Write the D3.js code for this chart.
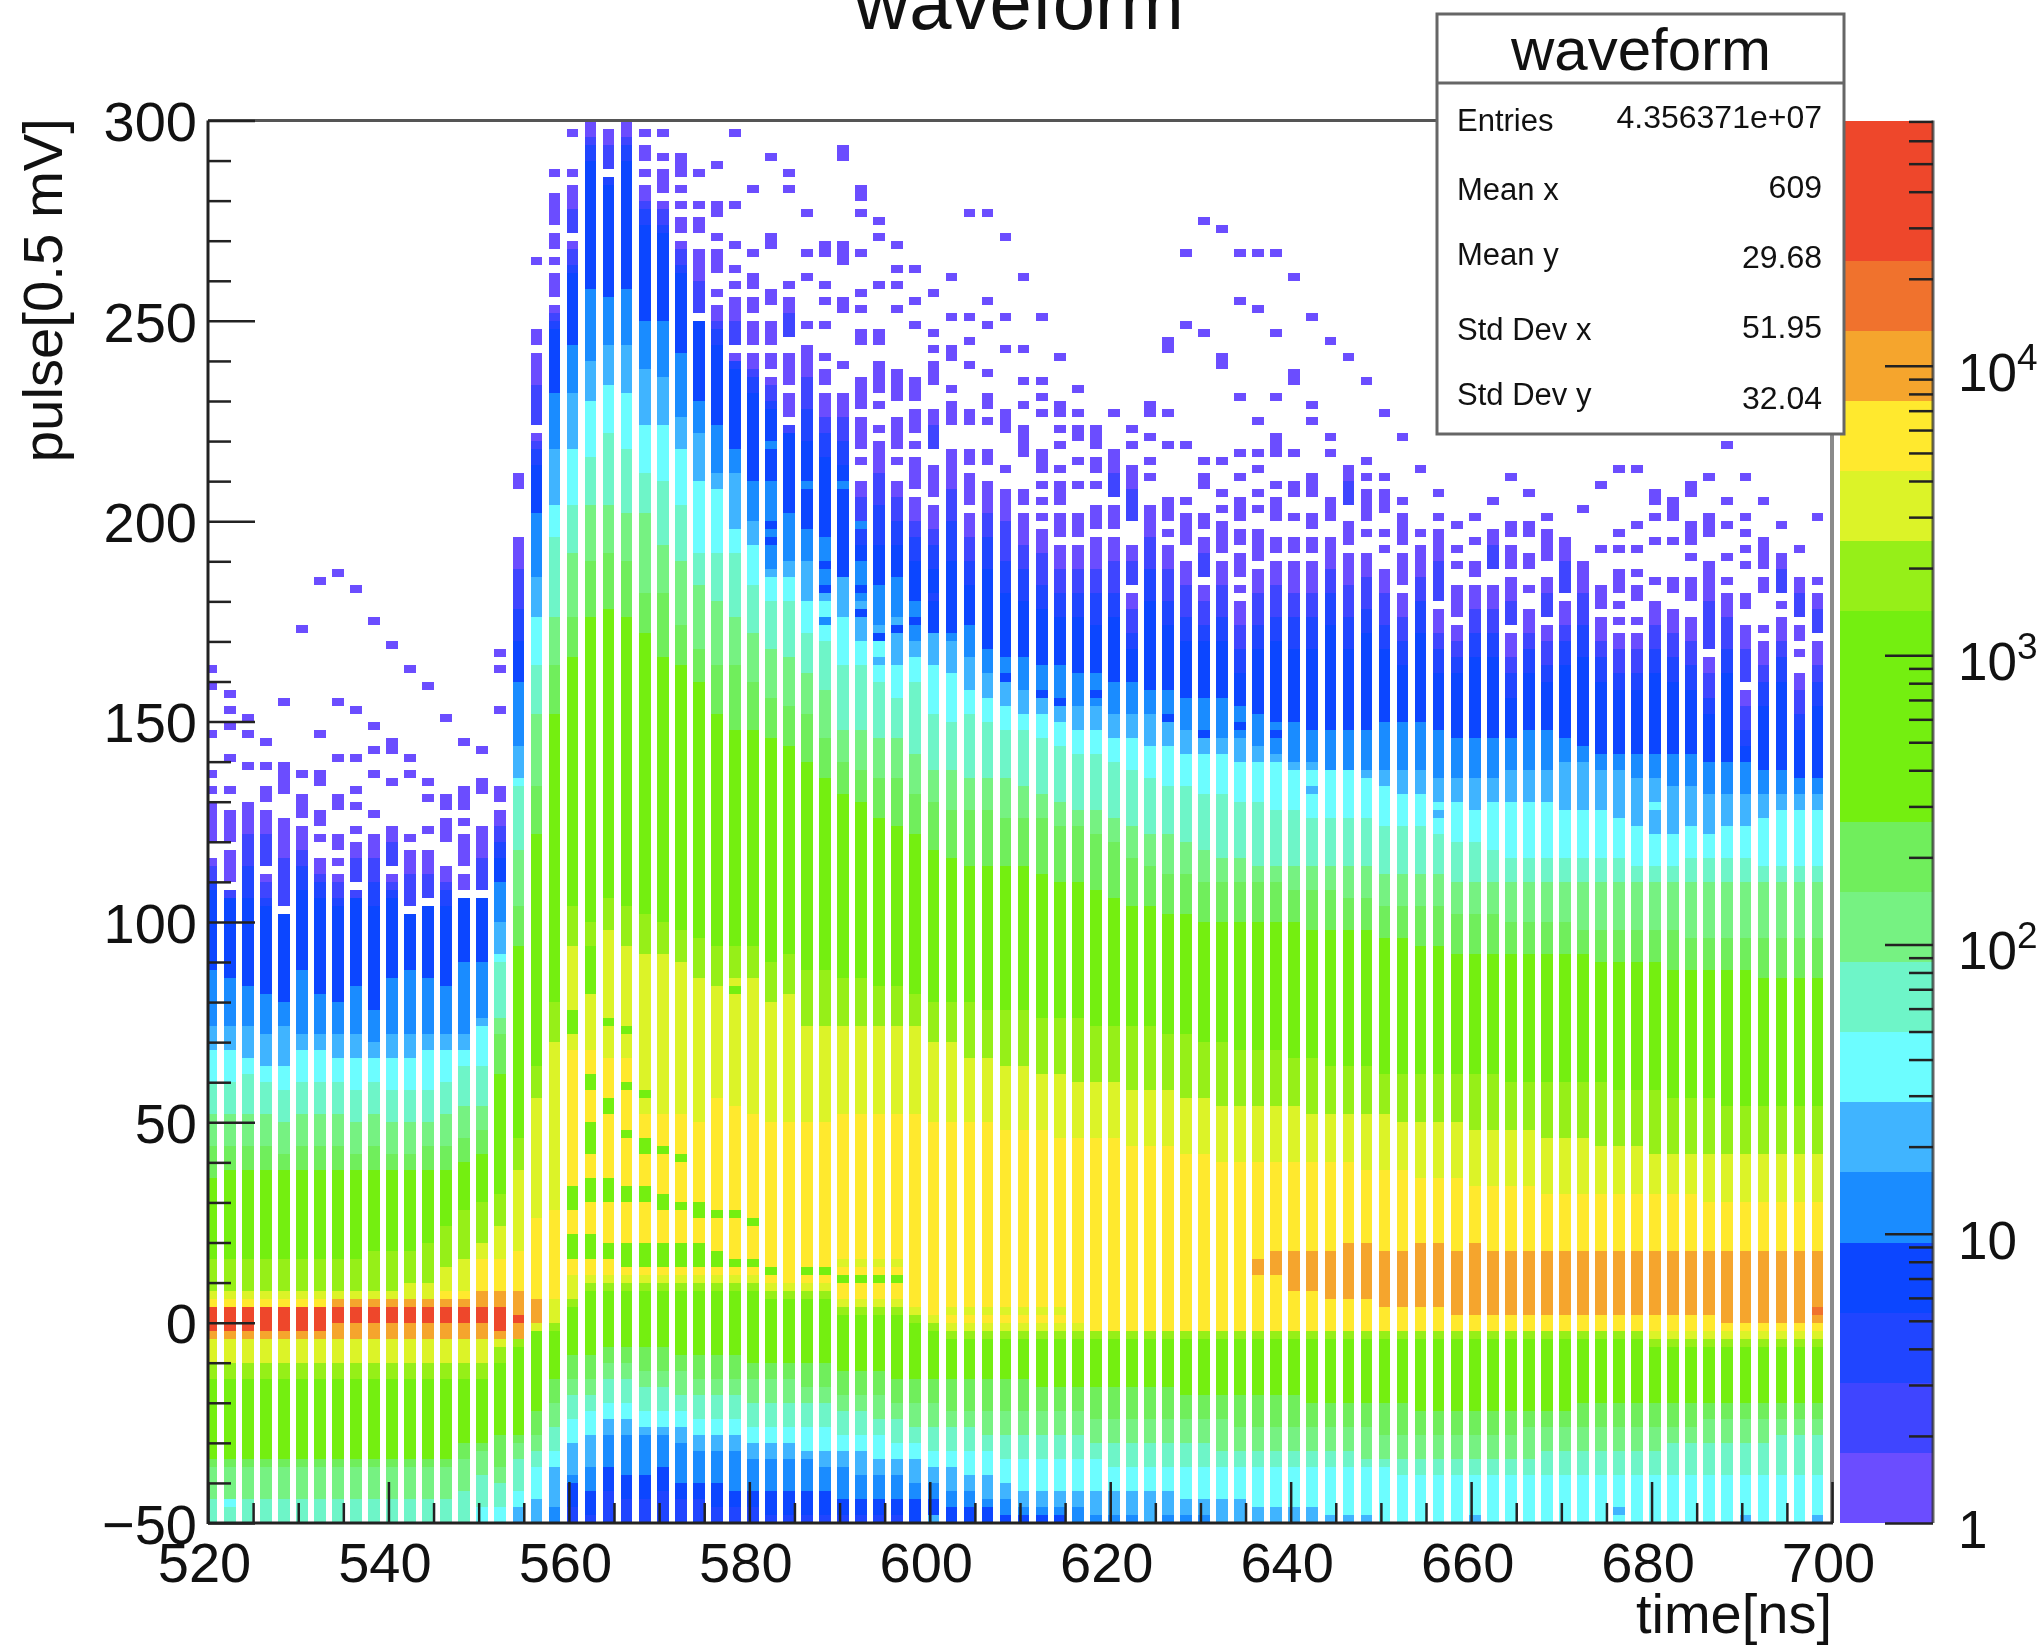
<!DOCTYPE html>
<html><head><meta charset="utf-8">
<script src="https://d3js.org/d3.v7.min.js"></script>
<style>
html,body{margin:0;padding:0;background:#fff;overflow:hidden}
svg{display:block;filter:blur(0.7px)}
text{font-family:"Liberation Sans",Arial,sans-serif;fill:#111}
</style></head><body><div id="chart"></div>
<script>
// ---------- data (one value per time bin, pulse units) ----------
const xTickLabels=[520,540,560,580,600,620,640,660,680,700];
const yTickLabels=[-50,0,50,100,150,200,250,300];
const colorDecades=[1,10,100,1000,10000];
const statNames=["Entries","Mean x","Mean y","Std Dev x","Std Dev y"];
const statValues=["4.356371e+07","609","29.68","51.95","32.04"];
const levelColors=["#6b4dff","#3f45ff","#2045ff","#0c46ff","#1a8cff","#40b4ff","#6cfdff","#6ef5c8","#76f282","#70ee5c","#74ef10","#74ef10","#74ef10","#96ef18","#dcf328","#ffe92e","#f5a52d","#f0722d","#ee472b","#ee472b"];

const solidTop=[116,108,130,112,102,124,116,112,108,122,
112,102,104,114,106,106,128,197,222,254,
270,300,286,300,284,280,270,250,254,242,
242,236,224,244,232,232,211,220,211,206,
204,218,202,210,208,202,198,194,194,196,
196,182,204,194,190,184,190,180,188,190,
190,190,196,192,192,188,182,194,178,174,
184,184,172,178,174,180,190,176,172,172,
180,178,176,166,182,158,170,176,162,170];
const top3=[108,106,106,104,102,108,106,104,106,104,
106,104,104,104,106,106,116,170,215,248,
262,290,285,290,275,272,262,250,245,238,
232,228,222,220,216,215,195,195,195,190,
188,190,185,188,182,180,178,176,176,174,
176,168,180,174,170,170,170,162,168,170,
168,168,174,168,172,168,164,172,162,162,
166,166,156,162,160,164,166,160,158,158,
162,160,158,152,162,144,154,160,148,154];
const top4=[88,87,85,83,80,88,82,81,84,79,
87,88,86,85,90,90,110,160,203,232,
245,258,257,258,251,251,242,231,224,218,
210,211,203,199,195,186,190,183,184,180,
173,175,175,168,167,167,164,164,163,163,
161,160,159,158,157,156,156,154,152,151,
150,149,148,148,149,150,150,150,148,147,
146,146,147,148,148,146,145,143,143,143,
143,143,142,141,141,140,139,138,136,136];
const top5=[74,74,75,72,75,73,72,73,73,70,
72,72,72,73,73,76,100,145,187,218,
232,241,245,244,239,237,227,222,212,212,
200,191,191,190,185,186,181,175,177,170,
172,171,166,163,161,158,157,156,155,154,
153,153,152,150,149,148,147,146,144,142,
141,140,139,139,139,139,139,138,137,136,
136,137,138,139,139,140,140,139,138,137,
136,135,134,133,132,132,133,133,133,133];
const top6=[69,69,67,64,64,68,68,67,66,66,
67,66,68,68,68,75,93,137,177,205,
219,231,234,232,225,225,218,210,208,199,
194,187,186,181,180,176,170,170,165,166,
164,162,158,157,155,153,152,150,149,149,
147,146,145,144,143,143,142,141,140,140,
139,139,138,138,136,134,132,132,131,131,
130,131,130,130,130,129,128,128,126,124,
123,123,124,123,124,124,127,128,129,129];
const top7=[61,61,62,61,59,61,60,61,59,60,
59,59,59,61,64,64,90,134,165,196,
205,217,222,218,213,210,205,193,193,192,
185,181,180,173,170,164,164,161,157,160,
153,151,152,150,149,148,147,145,143,142,
140,138,136,135,134,133,133,131,130,129,
128,127,127,126,126,125,125,125,122,121,
120,118,117,116,116,117,117,116,116,115,
115,115,116,116,116,116,115,115,115,115];
const top8=[52,52,52,52,50,52,52,52,50,52,
50,50,50,52,54,55,77,118,153,177,
192,205,205,203,202,195,190,185,180,176,
172,169,167,162,158,149,148,147,146,142,
139,138,137,136,136,135,133,131,129,128,
126,125,123,122,120,118,117,116,115,115,
115,115,114,114,114,113,113,113,112,111,
110,110,110,110,110,110,110,110,111,111,
111,111,111,111,111,111,111,111,111,111];
const top9=[44,44,44,44,43,44,44,44,43,44,
43,43,44,44,46,48,72,105,135,164,
177,190,193,190,182,182,174,169,164,164,
160,157,155,152,146,140,139,137,136,133,
131,129,129,128,127,127,126,125,124,123,
120,117,114,113,112,111,111,110,110,110,
109,109,108,107,106,105,105,105,104,103,
103,102,101,101,100,100,99,99,98,98,
98,98,97,97,97,97,97,97,97,97];
const top10=[37,38,38,38,38,38,38,38,38,38,
38,38,38,38,41,42,62,95,123,152,
166,177,178,177,172,166,164,160,153,149,
148,146,144,141,137,133,130,127,124,122,
119,117,115,115,114,114,113,111,110,109,
107,105,104,103,102,101,101,100,100,100,
100,99,99,99,98,97,96,95,94,93,
92,92,92,92,92,92,92,91,91,90,
90,89,89,88,88,88,87,87,87,86];
const top13=[16,16,16,16,16,16,16,16,16,18,
18,18,20,24,28,30,32,46,64,80,
104,100,106,104,102,100,99,96,94,95,
94,91,92,88,88,87,86,85,84,82,
81,80,80,79,78,78,77,77,76,75,
75,74,74,73,72,71,70,69,68,68,
67,66,65,65,64,63,63,62,62,62,
62,62,61,61,60,60,60,60,59,58,
58,57,56,56,55,55,55,55,55,55];
const top14=[8,8,8,8,8,8,8,8,8,8,
9,10,11,14,17,20,25,38,56,70,
95,94,98,95,93,92,90,86,84,86,
86,80,83,75,75,74,74,74,74,74,
70,70,67,67,65,64,63,62,61,61,
60,59,58,58,57,56,55,55,54,54,
54,53,53,52,52,52,51,51,50,50,
49,49,48,48,47,47,46,45,45,44,
43,43,43,43,43,43,43,43,43,43];
const top15=[6,6,6,6,6,6,6,6,6,6,
6,6,7,8,9,16,16,19,27,28,
68,68,67,66,52,52,52,50,57,55,
53,50,51,51,51,53,53,53,53,52,
51,51,50,50,49,48,48,47,47,47,
46,45,45,44,43,42,41,41,41,40,
40,40,40,40,39,38,38,37,36,36,
35,35,34,34,33,33,33,33,33,32,
32,32,32,31,31,31,31,31,31,31];

const amberTop=[4,4,4,4,4,4,4,6,6,6,
6,6,6,6,6,8,8,8,6,0,
0,0,0,0,0,0,0,0,0,0,
0,0,0,0,0,0,0,0,0,0,
0,0,0,0,0,0,0,0,0,0,
0,0,0,0,0,0,0,0,16,18,
18,18,18,20,20,18,18,20,20,18,
20,18,18,18,18,18,18,18,18,18,
18,18,18,18,18,18,18,18,18,18];
const amberBottom=[-3,-3,-3,-3,-3,-3,-3,-3,-3,-3,
-3,-3,-3,-3,-3,-3,-3,-3,0,0,
0,0,0,0,0,0,0,0,0,0,
0,0,0,0,0,0,0,0,0,0,
0,0,0,0,0,0,0,0,0,0,
0,0,0,0,0,0,0,0,12,12,
8,8,6,6,6,4,4,4,4,2,
2,2,2,2,2,2,2,2,2,2,
2,2,2,2,0,0,0,0,0,0];
const redTop=[4,4,4,4,4,4,4,4,4,4,
4,4,4,4,4,4,4,2];
const redBottom=[-2,-2,-2,-2,-2,-2,-2,0,0,0,
0,0,0,0,0,0,-2,0];

const low15=[-3,-3,-3,-3,-3,-3,-3,-3,-3,-3,
-3,-3,-3,-3,-3,-3,-3,-1,0,7,
13,13,13,13,13,13,13,13,13,13,
12,11,11,11,11,6,6,6,6,4,
2,0,0,0,0,0,0,0,0,-1,
-1,-1,-1,-1,-1,-1,-1,-1,-1,-1,
-1,-1,-1,-1,-1,-1,-1,-1,-1,-1,
-1,-1,-1,-1,-1,-1,-1,-1,-1,-1,
-1,-1,-1,-1,-1,-1,-1,-1,-1,-1];
const low14=[-10,-10,-10,-10,-10,-10,-10,-10,-10,-10,
-10,-10,-10,-10,-10,-10,-6,-3,-1,0,
6,10,10,10,10,10,10,10,10,10,
10,9,9,9,9,4,4,4,4,2,
0,-1,-1,-1,-1,-1,-1,-1,-1,-1,
-1,-1,-1,-1,-1,-1,-1,-1,-1,-1,
-1,-1,-1,-1,-1,-1,-1,-1,-1,-1,
-1,-1,-1,-1,-1,-1,-1,-1,-1,-1,
-3,-3,-3,-3,-3,-3,-3,-3,-3,-3];
const low13=[-14,-14,-14,-14,-14,-14,-14,-14,-14,-14,
-14,-14,-14,-14,-14,-14,-9,-5,-2,-2,
4,8,8,8,8,8,8,8,8,8,
8,7,7,7,7,2,2,2,2,0,
-2,-3,-3,-3,-3,-3,-3,-3,-3,-3,
-3,-3,-3,-3,-3,-3,-3,-3,-3,-3,
-3,-3,-3,-3,-3,-3,-3,-3,-3,-3,
-3,-3,-3,-3,-3,-3,-3,-3,-3,-3,
-5,-5,-5,-5,-5,-5,-5,-5,-5,-5];
const low10=[-33,-33,-33,-33,-33,-33,-33,-33,-33,-33,
-33,-33,-33,-33,-30,-29,-28,-27,-21,-14,
-7,-7,-6,-6,-6,-6,-7,-7,-8,-8,
-9,-9,-9,-10,-10,-11,-11,-12,-13,-13,
-13,-14,-14,-14,-14,-14,-15,-15,-15,-15,
-16,-16,-16,-16,-17,-17,-17,-17,-18,-18,
-18,-19,-19,-19,-20,-20,-20,-21,-21,-21,
-21,-21,-21,-21,-21,-21,-20,-20,-20,-20,
-20,-20,-20,-20,-20,-20,-20,-20,-20,-20];
const low9=[-36,-36,-36,-36,-36,-36,-36,-36,-36,-36,
-36,-36,-36,-36,-33,-32,-35,-30,-27,-20,
-14,-13,-10,-10,-11,-11,-12,-13,-13,-13,
-14,-14,-14,-15,-15,-17,-17,-18,-20,-20,
-20,-21,-21,-21,-21,-21,-22,-22,-22,-23,
-23,-23,-23,-24,-24,-24,-24,-25,-25,-25,
-25,-26,-26,-26,-26,-27,-27,-27,-27,-27,
-27,-27,-27,-26,-26,-26,-26,-25,-25,-25,
-25,-25,-25,-24,-24,-24,-24,-24,-24,-24];
const low8=[-44,-44,-44,-44,-44,-44,-44,-44,-44,-44,
-44,-44,-44,-44,-41,-38,-40,-34,-32,-26,
-18,-17,-14,-14,-15,-16,-17,-18,-18,-18,
-19,-19,-19,-20,-20,-22,-22,-23,-24,-25,
-26,-26,-26,-27,-27,-27,-27,-28,-28,-29,
-29,-30,-30,-30,-30,-30,-31,-31,-31,-31,
-31,-32,-32,-32,-33,-33,-33,-34,-34,-34,
-34,-33,-33,-33,-32,-32,-32,-31,-31,-31,
-31,-30,-30,-30,-29,-29,-29,-28,-28,-28];
const low7=[-52,-52,-52,-52,-52,-52,-52,-52,-52,-52,
-52,-52,-52,-52,-52,-46,-46,-41,-36,-31,
-24,-22,-20,-20,-21,-21,-22,-23,-23,-24,
-25,-25,-25,-26,-26,-27,-27,-28,-29,-30,
-31,-31,-32,-32,-33,-33,-33,-34,-34,-34,
-35,-35,-35,-35,-35,-35,-35,-35,-35,-35,
-36,-36,-36,-36,-36,-36,-37,-37,-37,-37,
-37,-37,-37,-37,-37,-37,-37,-37,-37,-37,
-37,-37,-37,-37,-37,-37,-37,-37,-37,-37];
const low6=[-52,-52,-52,-52,-52,-52,-52,-52,-52,-52,
-52,-52,-52,-52,-52,-52,-52,-46,-44,-36,
-30,-28,-24,-24,-25,-25,-26,-27,-27,-28,
-29,-30,-30,-31,-31,-32,-32,-33,-33,-34,
-35,-36,-37,-38,-39,-41,-41,-41,-41,-41,
-41,-41,-41,-42,-43,-43,-44,-44,-45,-45,
-46,-46,-47,-47,-48,-49,-50,-52,-52,-52,
-52,-52,-52,-52,-52,-52,-52,-52,-52,-52,
-50,-52,-52,-52,-52,-48,-52,-52,-52,-48];
const low5=[-52,-52,-52,-52,-52,-52,-52,-52,-52,-52,
-52,-52,-52,-52,-52,-52,-52,-52,-52,-45,
-37,-35,-27,-28,-28,-28,-30,-31,-31,-32,
-33,-34,-34,-34,-35,-36,-37,-37,-38,-39,
-40,-41,-42,-43,-44,-46,-46,-46,-46,-47,
-47,-47,-47,-48,-48,-48,-49,-49,-50,-50,
-50,-52,-52,-52,-52,-52,-52,-52,-52,-52,
-52,-52,-52,-52,-52,-52,-52,-52,-52,-52,
-52,-52,-52,-52,-52,-52,-52,-52,-52,-52];
const low4=[-52,-52,-52,-52,-52,-52,-52,-52,-52,-52,
-52,-52,-52,-52,-52,-52,-52,-52,-52,-52,
-40,-42,-36,-37,-38,-35,-39,-40,-40,-41,
-41,-42,-42,-42,-42,-43,-43,-43,-43,-44,
-44,-45,-45,-46,-47,-48,-48,-48,-49,-49,
-49,-52,-52,-52,-52,-52,-52,-52,-52,-52,
-52,-52,-52,-52,-52,-52,-52,-52,-52,-52,
-52,-52,-52,-52,-52,-52,-52,-52,-52,-52,
-52,-52,-52,-52,-52,-52,-52,-52,-52,-52];
const low3=[-52,-52,-52,-52,-52,-52,-52,-52,-52,-52,
-52,-52,-52,-52,-52,-52,-52,-52,-52,-52,
-45,-47,-41,-43,-44,-42,-44,-44,-45,-46,
-46,-47,-47,-47,-47,-48,-48,-48,-48,-52,
-52,-52,-52,-52,-52,-52,-52,-52,-52,-52,
-52,-52,-52,-52,-52,-52,-52,-52,-52,-52,
-52,-52,-52,-52,-52,-52,-52,-52,-52,-52,
-52,-52,-52,-52,-52,-52,-52,-52,-52,-52,
-52,-52,-52,-52,-52,-52,-52,-52,-52,-52];

// isolated low-count bins above each column's solid part: centre, or [low, high]
const isolated=[
[163,159,147,137,133,129,[120,128]],
[157,153,149,141,133,[120,128],[110,118]],
[151,147,139],
[145,139,[130,134],[114,128]],
[155,[132,140],[104,126]],
[173,137,[126,132]],
[185,147,[134,138],[124,128],121],
[187,155,141,[128,132],[118,122],115],
[183,153,141,133,129,123,[110,120]],
[175,149,143,137,127],
[169,[142,146],135,[114,124]],
[163,141,137,121,[104,118]],
[159,135,131,123,[106,118]],
[151,[128,132],[120,126]],
[145,[128,134],125,[114,122],[108,112]],
[143,[132,136],[108,124]],
[167,163,153,[130,134]],
[[208,212]],
[265,[244,248],[224,242]],
[287,[274,282],[268,272],[264,266],[256,262]],
[297,287,[272,284]],
[],
[[288,298]],
[],
[297,[290,294],287],
[297,291,[282,288]],
[[286,292],283,279,[272,276]],
[287,279,[272,276],[252,268]],
[289,[276,280],271,[262,268],257],
[297,279,269,263,259,[243,256]],
[283,267,[258,262],[252,256],[244,250]],
[291,[268,272],[254,258],[244,250],[238,242]],
[287,283,259,[246,256],[234,242],[226,232]],
[277,267,261,249],
[[266,270],259,255,249,241,[234,238]],
[[290,294],[264,270],[252,256],239],
[[280,284],277,267,257,253,[244,248],[228,236],[218,226],215],
[275,271,259,[244,248],[232,240],229,223],
[269,263,259,253,[230,238],[218,226],215],
[263,255,249,[230,236],[222,228],219,[208,216]],
[257,246,243,[234,240],[218,228],[206,214]],
[261,251,[240,244],233,[224,230]],
[277,251,245,239,[224,228],[214,218],[204,212]],
[277,255,249,237,[228,232],225,[214,218]],
[271,251,243,[222,228],213],
[261,243,235,229,[216,224],[204,208]],
[251,235,231,227,[212,218],209,205,201],
[241,[226,230],223,219,213,[204,210],[196,202]],
[233,227,[220,224],215,209,[196,202]],
[[218,224],[212,216],209,[198,204]],
[227,[206,218],[198,204]],
[223,219,[200,214],[184,194]],
[[226,230],221,215,211],
[[242,246],227,219,[200,206],197],
[267,249,219,205,[194,202]],
[275,247,215,[208,212],[198,202],[186,196]],
[273,[238,242],215,207,203,[192,200]],
[267,255,231,217,211,[200,206],[194,198],[186,192],183],
[267,253,225,217,213,207,203,[190,198]],
[267,247,231,[216,222],209,[200,206],[192,196]],
[261,[234,238],217,[206,210],201,[192,196]],
[251,229,225,[206,212],[198,202],[192,196]],
[245,221,217,[200,206]],
[241,[204,214],[194,200]],
[235,215,211,[200,208],197],
[227,211,[202,208],197,192],
[221,205,[194,202],[184,192]],
[213,197],
[207,201,[180,198]],
[199,193,189,[176,184]],
[201,194,[186,190]],
[205,[188,198]],
[211,[196,200],[188,194],[174,186]],
[207,[196,200],[188,192],182],
[201,[190,198],[176,186]],
[[182,196]],
[203],
[209,193,[178,184]],
[213,197,193,[184,188],182,178,175],
[213,199,193,187,[180,184],175],
[[204,208],201,195,185],
[[200,206],195,[182,186]],
[[206,210],[194,200],191,[180,186]],
[211,[196,202],[168,190]],
[219,205,199,191,185],
[211,201,197,193,189,[178,182],[160,174]],
[205,[188,196],[182,186],173],
[199,[182,192],179],
[193,[176,186],[170,173],167],
[201,185,[172,182]]
];

// single bins that stand out from their neighbours: [column, bin, level]
const specks=[[31,218,4],[31,198,3],[31,194,3],[31,188,4],[33,208,4],[34,194,4],[34,188,3],[34,182,3],[34,174,4],
[35,208,4],[35,194,3],[35,188,3],[36,198,4],[36,182,3],[36,176,3],[37,182,4],[37,170,3],[37,164,5],[38,184,4],[38,172,3],
[39,182,3],[39,174,3],[40,174,3],[40,180,2],[41,172,3],[41,166,5],[42,166,4],[44,160,3],[46,156,3],[47,154,3],[49,156,3],
[51,152,4],[53,150,3],[55,146,3],[57,148,3],[59,146,3],[60,142,4],[62,156,3],[64,154,3],[66,150,3],[69,150,3],[71,148,3],
[74,148,3],[75,136,5],[78,144,3],[79,140,4],[80,128,6],[81,130,5],[83,140,3],[85,142,3],[86,126,5],[88,144,3],[86,136,4],
[72,132,5],[76,130,5],[70,128,5],[68,126,5],[61,132,5],[63,134,6],
[20,76,10],[24,68,14],[29,60,14],
[41,2,14],[42,2,14],[43,2,14],[44,2,14],[45,2,14],[46,2,14],[47,2,14],
[35,10,10],[36,10,10],[37,10,10],[38,10,10],[35,14,14],[36,14,14],[37,14,14],[38,14,14],
[89,2,17],[1,-46,6],[40,-50,5],[52,-50,5],[70,-50,5],[78,-48,5]];

// darker green / yellow-green stripes inside the yellow region: [column, low, high]
const greenStripes=[[20,72,78],[20,28,34],[20,16,22],[21,82,94],[21,58,62],[21,42,50],[21,30,36],[21,16,22],
[22,74,76],[22,52,56],[22,30,36],[22,16,20],[23,72,74],[23,58,60],[23,46,48],[23,30,34],[23,14,20],
[24,56,58],[24,42,46],[24,30,34],[24,14,20],[25,42,44],[25,28,32],[25,14,20],[26,40,42],[26,28,30],[26,14,20],
[27,26,30],[27,14,20],[28,26,28],[28,14,18],[29,82,84],[29,26,28],[29,14,16],[30,24,26],[30,14,16],[31,12,14],[33,12,14],[34,12,14]];

// ---------- geometry ----------
const W=2039,H=1649;
const plot={l:208,r:1832,t:120.5,b:1523};
const bar={l:1840,r:1933};
const x=d3.scaleLinear().domain([520,700]).range([plot.l,plot.r]);
const y=d3.scaleLinear().domain([-50,300]).range([plot.b,plot.t]);
const colz=d3.scaleLog().domain([1,70500]).range([plot.b,plot.t]);
const color=d3.scaleOrdinal().domain(d3.range(20)).range(levelColors);
const firstBinCentre=520.4,binStep=2,fillWidth=1.3,binHeight=2;

function levelAt(k,c){
  if(redTop[k]!==undefined&&c<redTop[k]&&c>=redBottom[k])return 18;
  if(c<amberTop[k]&&c>=amberBottom[k])return 16;
  if(c>=low15[k]){
    if(c>=top3[k]){const t=(c-top3[k])/Math.max(1,solidTop[k]-top3[k]);return t>.66?0:t>.33?1:2;}
    if(c>=top4[k])return 3;
    if(c>=top5[k])return 4;
    if(c>=top6[k])return 5;
    if(c>=top7[k])return 6;
    if(c>=top8[k])return 7;
    if(c>=top9[k])return 8;
    if(c>=top10[k])return 9;
    if(c>=top13[k])return 10;
    if(c>=top14[k])return 13;
    if(c>=top15[k])return 14;
    return 15;
  }
  if(c>=low14[k])return 14;
  if(c>=low13[k])return 13;
  if(c>=low10[k])return 10;
  if(c>=low9[k])return 9;
  if(c>=low8[k])return 8;
  if(c>=low7[k])return 7;
  if(c>=low6[k])return 6;
  if(c>=low5[k])return 5;
  if(c>=low4[k])return 4;
  if(c>=low3[k])return 3;
  return 2;
}
const speckMap=new Map(specks.map(s=>[s[0]+"|"+s[1],s[2]]));
const stripeAt=(k,c)=>greenStripes.some(s=>s[0]===k&&c>=s[1]&&c<s[2]);

const cells=[];
solidTop.forEach((st,k)=>{
  for(let p=-50;p<300;p+=binHeight){
    const c=p+1;
    if(c>=st)continue;
    let lv=levelAt(k,c);
    if(stripeAt(k,c))lv=10;
    const sp=speckMap.get(k+"|"+p);
    if(sp!==undefined)lv=sp;
    cells.push({k,p,lv});
  }
  (isolated[k]||[]).forEach(e=>{
    if(Array.isArray(e)){
      const lo=Math.round(e[0]/2)*2,hi=Math.round(e[1]/2)*2;
      for(let p=lo;p<Math.max(hi,lo+2);p+=2)
        cells.push({k,p,lv:(hi-lo>=10&&p<(lo+hi)/2)?1:0});
    }else cells.push({k,p:Math.floor(e/2)*2,lv:0});
  });
});

const svg=d3.select("#chart").append("svg").attr("width",W).attr("height",H).attr("viewBox",[0,0,W,H]);
svg.append("rect").attr("width",W).attr("height",H).attr("fill","#fff");
svg.append("clipPath").attr("id","pc").append("rect")
  .attr("x",plot.l).attr("y",plot.t).attr("width",plot.r-plot.l).attr("height",plot.b-plot.t);

svg.append("g").attr("clip-path","url(#pc)").attr("shape-rendering","crispEdges")
 .selectAll("rect").data(cells).join("rect")
  .attr("x",d=>x(firstBinCentre+binStep*d.k-fillWidth/2))
  .attr("width",d=>x(firstBinCentre+binStep*d.k+fillWidth/2)-x(firstBinCentre+binStep*d.k-fillWidth/2))
  .attr("y",d=>y(d.p+binHeight))
  .attr("height",d=>y(d.p)-y(d.p+binHeight))
  .attr("fill",d=>color(d.lv));

// colour bar
const step=Math.log10(70500)/20;
svg.append("g").attr("shape-rendering","crispEdges").selectAll("rect").data(d3.range(20)).join("rect")
  .attr("x",bar.l).attr("width",bar.r-bar.l)
  .attr("y",i=>colz(Math.pow(10,(i+1)*step)))
  .attr("height",i=>colz(Math.pow(10,i*step))-colz(Math.pow(10,(i+1)*step)))
  .attr("fill",i=>color(i));

// frame
const frame=svg.append("g").attr("fill","none");
frame.append("line").attr("x1",plot.l).attr("x2",plot.r).attr("y1",plot.t).attr("y2",plot.t).attr("stroke","#555").attr("stroke-width",3);
frame.append("line").attr("x1",plot.r).attr("x2",plot.r).attr("y1",plot.t).attr("y2",plot.b).attr("stroke","#8a8a8a").attr("stroke-width",4);
frame.append("line").attr("x1",plot.l).attr("x2",plot.r+1).attr("y1",plot.b).attr("y2",plot.b).attr("stroke","#222").attr("stroke-width",3);
frame.append("line").attr("x1",plot.l).attr("x2",plot.l).attr("y1",plot.t).attr("y2",plot.b+1).attr("stroke","#222").attr("stroke-width",3);
frame.append("line").attr("x1",bar.r).attr("x2",bar.r).attr("y1",plot.t).attr("y2",plot.b).attr("stroke","#333").attr("stroke-opacity",.75).attr("stroke-width",3);

function styleAxis(g){g.select(".domain").remove();g.selectAll("line").attr("stroke","#222").attr("stroke-width",2.5);
  g.selectAll("text").attr("font-size",56).attr("fill","#111").attr("font-family",'"Liberation Sans",Arial,sans-serif');}

const minorY=d3.range(-50,301,10).filter(v=>!yTickLabels.includes(v));
const minorX=d3.range(520,701,5).filter(v=>!xTickLabels.includes(v));
svg.append("g").attr("transform",`translate(${plot.l},0)`)
  .call(d3.axisLeft(y).tickValues(minorY).tickSize(-23).tickFormat("")).call(styleAxis);
svg.append("g").attr("transform",`translate(${plot.l},0)`)
  .call(d3.axisLeft(y).tickValues(yTickLabels).tickSize(-47).tickPadding(11)).call(styleAxis)
  .selectAll("text").attr("dy","0.36em");
svg.append("g").attr("transform",`translate(0,${plot.b})`)
  .call(d3.axisBottom(x).tickValues(minorX).tickSize(-20).tickFormat("")).call(styleAxis);
const xa=svg.append("g").attr("transform",`translate(0,${plot.b})`)
  .call(d3.axisBottom(x).tickValues(xTickLabels).tickSize(-41).tickFormat(d3.format("d"))).call(styleAxis);
xa.selectAll("text").attr("dx",-4).attr("y",0).attr("dy",59);

// colour axis
const cTicks=colz.ticks().filter(v=>v<=70000);
svg.append("g").attr("transform",`translate(${bar.r},0)`)
  .call(d3.axisRight(colz).tickValues(cTicks.filter(v=>!colorDecades.includes(v))).tickSize(-24).tickFormat("")).call(styleAxis);
svg.append("g").attr("transform",`translate(${bar.r},0)`)
  .call(d3.axisRight(colz).tickValues(colorDecades).tickSize(-48).tickFormat("")).call(styleAxis);
const cl=svg.append("g").selectAll("text").data(colorDecades).join("text")
  .attr("x",1958).attr("y",d=>colz(d)+25).attr("font-size",53);
cl.each(function(d){
  const t=d3.select(this),e=Math.round(Math.log10(d));
  if(e===0)t.text("1");
  else if(e===1)t.text("10");
  else{t.append("tspan").text("10");t.append("tspan").attr("dy",-21).attr("font-size",37).text(e);}
});

// titles
svg.append("text").attr("x",1019).attr("y",29).attr("text-anchor","middle").attr("font-size",76).text("waveform");
svg.append("text").attr("transform","translate(62,118) rotate(-90)").attr("text-anchor","end").attr("font-size",56.3).text("pulse[0.5 mV]");
svg.append("text").attr("x",1832).attr("y",1633).attr("text-anchor","end").attr("font-size",56).text("time[ns]");

// stats box
const sb=svg.append("g");
sb.append("rect").attr("x",1437).attr("y",14).attr("width",407).attr("height",420).attr("fill","#fff").attr("stroke","#666").attr("stroke-width",3);
sb.append("line").attr("x1",1437).attr("x2",1844).attr("y1",83).attr("y2",83).attr("stroke","#666").attr("stroke-width",3);
sb.append("text").attr("x",1641).attr("y",70).attr("text-anchor","middle").attr("font-size",60).text("waveform");
const nameY=[131,200,265,340,405],valueY=[128,198,268,338,409];
sb.selectAll(".n").data(statNames).join("text").attr("x",1457).attr("y",(d,i)=>nameY[i]).attr("font-size",31).attr("fill","#333").text(d=>d);
sb.selectAll(".v").data(statValues).join("text").attr("x",1822).attr("y",(d,i)=>valueY[i]).attr("text-anchor","end").attr("font-size",32).attr("fill","#333").text(d=>d);
</script></body></html>
